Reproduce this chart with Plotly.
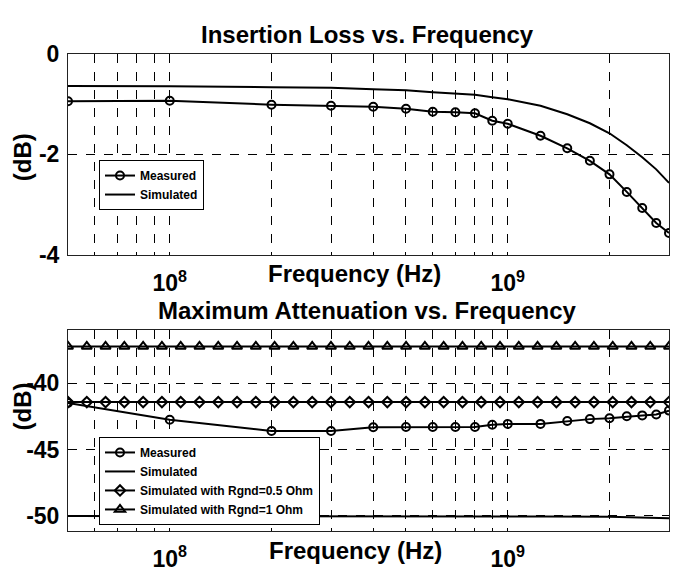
import plotly.graph_objects as go

# ---------------- data ----------------
freq_meas = [5e7, 1e8, 2e8, 3e8, 4e8, 5e8, 6e8, 7e8, 8e8, 9e8, 1e9,
             1.25e9, 1.5e9, 1.75e9, 2e9, 2.25e9, 2.5e9, 2.75e9, 3e9]

il_measured = [-0.94, -0.93, -1.01, -1.03, -1.05, -1.09, -1.15, -1.16, -1.18,
               -1.33, -1.39, -1.63, -1.88, -2.13, -2.40, -2.75, -3.07, -3.37, -3.57]
il_simulated = [-0.635, -0.64, -0.66, -0.67, -0.70, -0.72, -0.76, -0.79, -0.81,
                -0.86, -0.90, -1.03, -1.20, -1.38, -1.58, -1.82, -2.06, -2.30, -2.57]

att_measured = [-41.5, -42.76, -43.6, -43.6, -43.32, -43.3, -43.3, -43.3, -43.3,
                -43.14, -43.07, -43.07, -42.85, -42.71, -42.64, -42.5, -42.43, -42.36, -42.07]

freq_sim_flat = [5e7, 3e8, 1e9, 1.3e9, 2e9, 2.5e9, 3e9]
att_simulated = [-50.0, -50.0, -50.0, -50.05, -50.07, -50.1, -50.17]

freq_rgnd = [5.000e7, 5.683e7, 6.458e7, 7.340e7, 8.342e7, 9.481e7, 1.0775e8, 1.2246e8,
             1.3917e8, 1.5817e8, 1.7976e8, 2.0430e8, 2.3219e8, 2.6389e8, 2.9991e8,
             3.4085e8, 3.8737e8, 4.4025e8, 5.0035e8, 5.6865e8, 6.4627e8, 7.3449e8,
             8.3475e8, 9.4870e8, 1.0782e9, 1.2254e9, 1.3927e9, 1.5828e9, 1.7988e9,
             2.0444e9, 2.3234e9, 2.6406e9, 3.0e9]
att_rgnd05 = [-41.43] * 33
att_rgnd1 = [-37.24] * 33

grid_freqs = [6e7, 7e7, 8e7, 9e7, 1e8, 2e8, 3e8, 4e8, 5e8, 6e8, 7e8, 8e8, 9e8, 1e9, 2e9, 3e9]
grid_labels = ["", "", "", "", "10<sup>8</sup>", "", "", "", "", "", "", "", "", "10<sup>9</sup>", "", ""]

top_yticks = [0, -2, -4]
top_ylabels = ["0", "-2", "-4"]
bot_yticks = [-40, -45, -50]
bot_ylabels = ["-40", "-45", "-50"]

titles = ["Insertion Loss vs. Frequency", "Maximum Attenuation vs. Frequency"]

# ---------------- figure ----------------
W, H = 673, 576
FONT = "Liberation Sans, Arial, sans-serif"
fig = go.Figure()

line = dict(color="black", width=2)

fig.add_trace(go.Scatter(x=freq_meas, y=il_measured, name="Measured", mode="lines+markers",
                         line=line, marker=dict(symbol="circle-open", size=8, color="black",
                                                line=dict(width=2, color="black")),
                         xaxis="x", yaxis="y", legend="legend"))
fig.add_trace(go.Scatter(x=freq_meas, y=il_simulated, name="Simulated", mode="lines",
                         line=line, xaxis="x", yaxis="y", legend="legend"))

fig.add_trace(go.Scatter(x=freq_meas, y=att_measured, name="Measured", mode="lines+markers",
                         line=line, marker=dict(symbol="circle-open", size=8, color="black",
                                                line=dict(width=2, color="black")),
                         xaxis="x2", yaxis="y2", legend="legend2"))
fig.add_trace(go.Scatter(x=freq_sim_flat, y=att_simulated, name="Simulated", mode="lines",
                         line=line, xaxis="x2", yaxis="y2", legend="legend2"))
fig.add_trace(go.Scatter(x=freq_rgnd, y=att_rgnd05, name="Simulated with Rgnd=0.5 Ohm",
                         mode="lines+markers", line=line,
                         marker=dict(symbol="diamond-open", size=8, color="black",
                                     line=dict(width=2, color="black")),
                         xaxis="x2", yaxis="y2", legend="legend2"))
fig.add_trace(go.Scatter(x=freq_rgnd, y=att_rgnd1, name="Simulated with Rgnd=1 Ohm",
                         mode="lines+markers", line=line,
                         marker=dict(symbol="triangle-up-open", size=9, color="black",
                                     line=dict(width=2, color="black")),
                         xaxis="x2", yaxis="y2", legend="legend2"))

xdom = [68 / W, 669 / W]
top_dom = [1 - 253 / H, 1 - 43 / H]
bot_dom = [1 - 542 / H, 1 - 332 / H]

xaxis_common = dict(type="log", range=[7.69897, 9.47712], domain=xdom,
                    tickvals=grid_freqs, ticktext=grid_labels, ticks="",
                    showgrid=True, gridcolor="black", gridwidth=1, griddash="dash",
                    showline=True, linecolor="#222", linewidth=1, mirror=True,
                    tickfont=dict(family=FONT, size=23, color="black", weight="bold"),
                    ticklabelstandoff=8, zeroline=False)
yaxis_common = dict(ticks="", showgrid=True, gridcolor="black", gridwidth=1, griddash="dash",
                    showline=True, linecolor="#222", linewidth=1, mirror=True,
                    tickfont=dict(family=FONT, size=23, color="black", weight="bold"),
                    ticklabelstandoff=3, zeroline=False)

legend_font = dict(family=FONT, size=12, color="black", weight="bold")

fig.update_layout(
    width=W, height=H, margin=dict(l=0, r=0, t=0, b=0),
    paper_bgcolor="white", plot_bgcolor="white",
    xaxis=dict(**xaxis_common, anchor="y"),
    yaxis=dict(**yaxis_common, domain=top_dom, range=[-4, 0], tickvals=top_yticks,
               ticktext=top_ylabels, anchor="x"),
    xaxis2=dict(**xaxis_common, anchor="y2"),
    yaxis2=dict(**yaxis_common, domain=bot_dom, range=[-51.1, -36], tickvals=bot_yticks,
                ticktext=bot_ylabels, anchor="x2"),
    legend=dict(x=99 / W, y=1 - 154 / H, xanchor="left", yanchor="top",
                bgcolor="white", bordercolor="black", borderwidth=1,
                font=legend_font, itemwidth=30, tracegroupgap=0),
    legend2=dict(x=99 / W, y=1 - 444 / H, xanchor="left", yanchor="top",
                 bgcolor="white", bordercolor="black", borderwidth=1,
                 font=legend_font, itemwidth=30, tracegroupgap=0),
    showlegend=True,
)

ann_font_title = dict(family=FONT, size=24, color="black", weight="bold")
annotations = [
    dict(text=titles[0], x=368 / W, y=1 - 22 / H, xref="paper", yref="paper",
         showarrow=False, font=ann_font_title, xanchor="center", yanchor="middle"),
    dict(text=titles[1], x=368 / W, y=1 - 312 / H, xref="paper", yref="paper",
         showarrow=False, font=ann_font_title, xanchor="center", yanchor="middle"),
    dict(text="Frequency (Hz)", x=354 / W, y=1 - 273 / H, xref="paper", yref="paper",
         showarrow=False, font=ann_font_title, xanchor="center", yanchor="middle"),
    dict(text="Frequency (Hz)", x=355 / W, y=1 - 563 / H, xref="paper", yref="paper",
         showarrow=False, font=ann_font_title, xanchor="center", yanchor="middle"),
    dict(text="(dB)", x=22 / W, y=1 - 151 / H, xref="paper", yref="paper", textangle=-90,
         showarrow=False, font=ann_font_title, xanchor="center", yanchor="middle"),
    dict(text="(dB)", x=22 / W, y=1 - 412 / H, xref="paper", yref="paper", textangle=-90,
         showarrow=False, font=ann_font_title, xanchor="center", yanchor="middle"),
]
fig.update_layout(annotations=annotations)

fig.write_html("out.html")
